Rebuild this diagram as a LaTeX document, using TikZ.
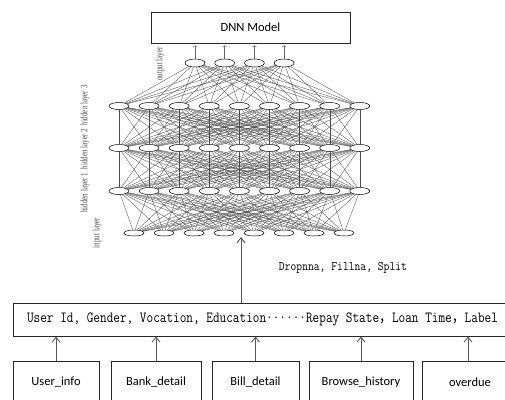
\documentclass[tikz,border=0pt]{standalone}
\usepackage{fontspec}
\usepackage{graphicx}
\usetikzlibrary{shapes.geometric,arrows.meta,positioning,calc}
\newfontfamily\calib{Carlito}
\newfontfamily\tms{Liberation Serif}
\newfontfamily\cjk{Noto Sans CJK SC}

\begin{document}
\begin{tikzpicture}[
    x=1pt, y=-1pt,
    neuron/.style={ellipse, draw, fill=white, line width=0.5pt, minimum width=20pt, minimum height=7pt, inner sep=0pt},
    inneuron/.style={neuron, minimum height=6pt},
    link/.style={black!70, line width=0.33pt},
    box/.style={rectangle, draw=black!85, line width=0.8pt, inner sep=0pt, align=center, font=\calib\fontsize{12.5}{14}\selectfont},
    arrow/.style={-{Straight Barb[length=5pt,width=8pt]}, draw=black!65, line width=0.9pt},
    outarrow/.style={-{Straight Barb[length=1pt,width=4pt]}, draw=black!60, line width=0.5pt},
    layerlabel/.style={rotate=90, font=\tms\fontsize{7}{8}\selectfont, text=black!70, inner sep=0pt}
]
    \useasboundingbox (0,0) rectangle (505,399);

    % Model box
    \node[box, minimum width=199pt, minimum height=31pt] (dnn) at (250.5,27.5) {DNN Model};

    % Layers of the network
    \foreach \i in {1,...,8}
        \node[inneuron] (in\i) at ({134+30*(\i-1)},233) {};
    \foreach \l/\y in {1/191, 2/148, 3/106}
        \foreach \i in {1,...,9}
            \node[neuron] (h\l-\i) at ({119+30.1*(\i-1)},\y) {};
    \foreach \i in {1,...,4}
        \node[neuron, minimum height=8pt] (out\i) at ({195+29.7*(\i-1)},63) {};

    % Links between layers
    \foreach \i in {1,...,8}
        \foreach \j in {1,...,9}
            \draw[link] (in\i) -- (h1-\j);
    \foreach \l/\m in {1/2, 2/3}
        \foreach \i in {1,...,9}
            \foreach \j in {1,...,9}
                \draw[link] (h\l-\i) -- (h\m-\j);
    \foreach \i in {1,...,9}
        \foreach \j in {1,...,4}
            \draw[link] (h3-\i) -- (out\j);
    \foreach \j in {1,...,4}
        \draw[outarrow, shorten >=2pt] (out\j) -- (out\j |- dnn.south);

    % Layer names
    \node[layerlabel] (outlbl) at (160,64) {\scalebox{1}[1.4]{output layer}};
    \node[layerlabel] (hidlbl) at (85,149) {\scalebox{1}[1.4]{hidden layer 1\enspace hidden layer 2\enspace hidden layer 3}};
    \node[layerlabel] (inlbl) at (97,233) {\scalebox{1}[1.4]{input layer}};

    % Preprocessing
    \node[font=\ttfamily\fontsize{11.3}{13}\selectfont, inner sep=0pt] (prep) at (343,268) {\scalebox{1}[1.15]{Dropnna, Fillna, Split}};
    \node[rectangle, draw=black!85, line width=0.9pt, minimum width=499pt, minimum height=33pt, inner sep=0pt] (fields) at (262.5,319.5)
        {\ttfamily\fontsize{12.9}{15}\selectfont\scalebox{1}[1.2]{User Id, Gender, Vocation, Education······Repay State{\cjk ，}Loan Time{\cjk ，}Label}\hspace{7pt}};
    \coordinate (netin) at (241,237);
    \draw[arrow] (fields.north -| netin) -- (netin);

    % Data sources
    \node[box, minimum width=86pt, minimum height=42pt] (userinfo) at (56,382) {User\_info};
    \node[box, minimum width=90pt, minimum height=42pt] (bank) at (156,382) {Bank\_detail};
    \node[box, minimum width=87pt, minimum height=42pt] (bill) at (255.5,382) {Bill\_detail};
    \node[box, minimum width=104pt, minimum height=42pt] (browse) at (361,382) {Browse\_history};
    \node[box, minimum width=96pt, minimum height=42pt] (overdue) at (470,382) {overdue};
    \foreach \s in {userinfo,bank,bill,browse}
        \draw[arrow] (\s.north) -- (\s.north |- fields.south);
    \draw[arrow] ([xshift=-2pt]overdue.north) -- ([xshift=-2pt]overdue.north |- fields.south);
\end{tikzpicture}
\end{document}
